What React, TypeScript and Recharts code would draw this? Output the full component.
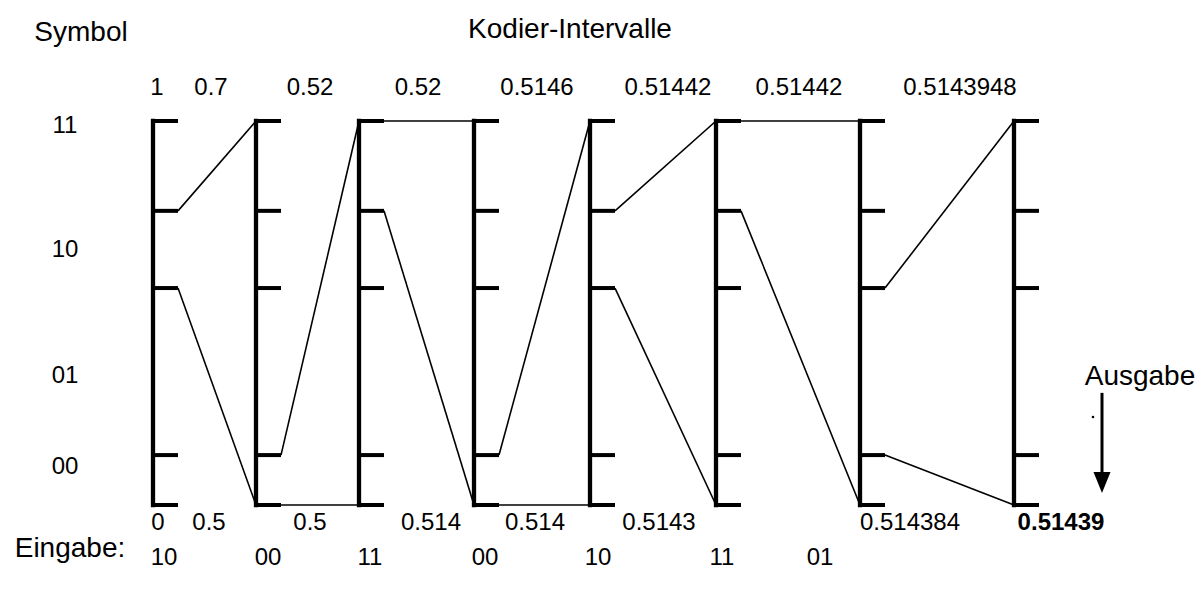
import { ComposedChart, Line, ReferenceDot, XAxis, YAxis } from "recharts";

// Symbol alphabet and the drawn interval edges (bottom -> top) on every scale
const symbols = ["00", "01", "10", "11"];
const edges = [0, 0.13, 0.565, 0.766, 1];

// input sequence (one symbol per step)
const inputs = ["10", "00", "11", "00", "10", "11", "01"];

// interval bounds written above / below the scales
const upperLabels = ["1", "0.7", "0.52", "0.52", "0.5146", "0.51442", "0.51442", "0.5143948"];
const lowerLabels = ["0", "0.5", "0.5", "0.514", "0.514", "0.5143", "0.514384", "0.51439"];

// horizontal placement of the scales and the texts (chart x units)
const stageX = [153, 256, 359, 474, 590, 716, 860, 1014];
const upperLabelX = [157, 211, 310, 418, 537, 668, 799, 960];
const lowerLabelX = [158, 209, 310, 431, 535, 659, 910, 1061];
const inputX = [164, 268, 370, 485, 598, 722, 820];

const W = 1204;
const H = 597;
const TICK = 25;
const Y_LO = -92 / 384;
const Y_HI = 1 + 121 / 384;
const FONT = "'Liberation Sans', Arial, sans-serif";

type Pt = { x: number; y: number };

function seg(a: Pt, b: Pt) {
  return [a, b];
}

function textDot(
  key: string,
  x: number,
  y: number,
  text: string,
  size = 24,
  weight: "normal" | "bold" = "normal",
) {
  return (
    <ReferenceDot
      key={key}
      x={x}
      y={y}
      r={0}
      ifOverflow="visible"
      shape={(p: any) => (
        <text
          x={p.cx}
          y={p.cy}
          textAnchor="middle"
          dominantBaseline="central"
          fontFamily={FONT}
          fontSize={size}
          fontWeight={weight}
          fill="#000"
        >
          {text}
        </text>
      )}
    />
  );
}

export default function App() {
  const bars = stageX.map((x) => seg({ x, y: 0 }, { x, y: 1 }));
  const ticks = stageX.flatMap((x) => edges.map((e) => seg({ x, y: e }, { x: x + TICK, y: e })));
  const links: Pt[][] = [];
  inputs.forEach((s, i) => {
    const k = symbols.indexOf(s);
    const x0 = stageX[i] + TICK;
    const x1 = stageX[i + 1];
    links.push(seg({ x: x0, y: edges[k + 1] }, { x: x1, y: 1 }));
    links.push(seg({ x: x0, y: edges[k] }, { x: x1, y: 0 }));
  });
  const symbolLabelY = [0.102, 0.341, 0.669, 0.992];

  return (
    <div style={{ position: "absolute", left: 0, top: 0, background: "#fff" }}>
      <ComposedChart width={W} height={H} margin={{ top: 0, right: 0, bottom: 0, left: 0 }}>
        <XAxis type="number" dataKey="x" domain={[0, W]} hide allowDataOverflow />
        <YAxis type="number" dataKey="y" domain={[Y_LO, Y_HI]} hide allowDataOverflow />

        {bars.map((d, i) => (
          <Line key={`bar-${i}`} data={d} dataKey="y" stroke="#000" strokeWidth={4.3}
            strokeLinecap="square" dot={false} activeDot={false} isAnimationActive={false} />
        ))}
        {ticks.map((d, i) => (
          <Line key={`tick-${i}`} data={d} dataKey="y" stroke="#000" strokeWidth={4}
            dot={false} activeDot={false} isAnimationActive={false} />
        ))}
        {links.map((d, i) => (
          <Line key={`link-${i}`} data={d} dataKey="y" stroke="#000" strokeWidth={1.6}
            dot={false} activeDot={false} isAnimationActive={false} />
        ))}

        {/* output arrow */}
        <Line data={seg({ x: 1102, y: 0.292 }, { x: 1102, y: 0.075 })} dataKey="y" stroke="#000"
          strokeWidth={3} dot={false} activeDot={false} isAnimationActive={false} />
        <ReferenceDot x={1102} y={0.031} r={0} ifOverflow="visible"
          shape={(p: any) => (
            <polygon points={`${p.cx},${p.cy} ${p.cx - 8.5},${p.cy - 21} ${p.cx + 8.5},${p.cy - 21}`} fill="#000" />
          )} />
        <ReferenceDot x={1093} y={0.229} r={1.3} fill="#000" stroke="none" ifOverflow="visible" />

        {upperLabels.map((t, i) => textDot(`up-${i}`, upperLabelX[i], 1.091, t))}
        {lowerLabels.map((t, i) =>
          textDot(`lo-${i}`, lowerLabelX[i], -0.044, t, 24, i === lowerLabels.length - 1 ? "bold" : "normal"),
        )}
        {inputs.map((t, i) => textDot(`in-${i}`, inputX[i], -0.133, t))}
        {symbols.map((t, i) => textDot(`sym-${i}`, 65, symbolLabelY[i], t))}

        {textDot("title", 570, 1.242, "Kodier-Intervalle", 28)}
        {textDot("symbol", 81, 1.232, "Symbol", 28)}
        {textDot("eingabe", 70, -0.11, "Eingabe:", 28)}
        {textDot("ausgabe", 1140, 0.336, "Ausgabe", 28)}
      </ComposedChart>
    </div>
  );
}
